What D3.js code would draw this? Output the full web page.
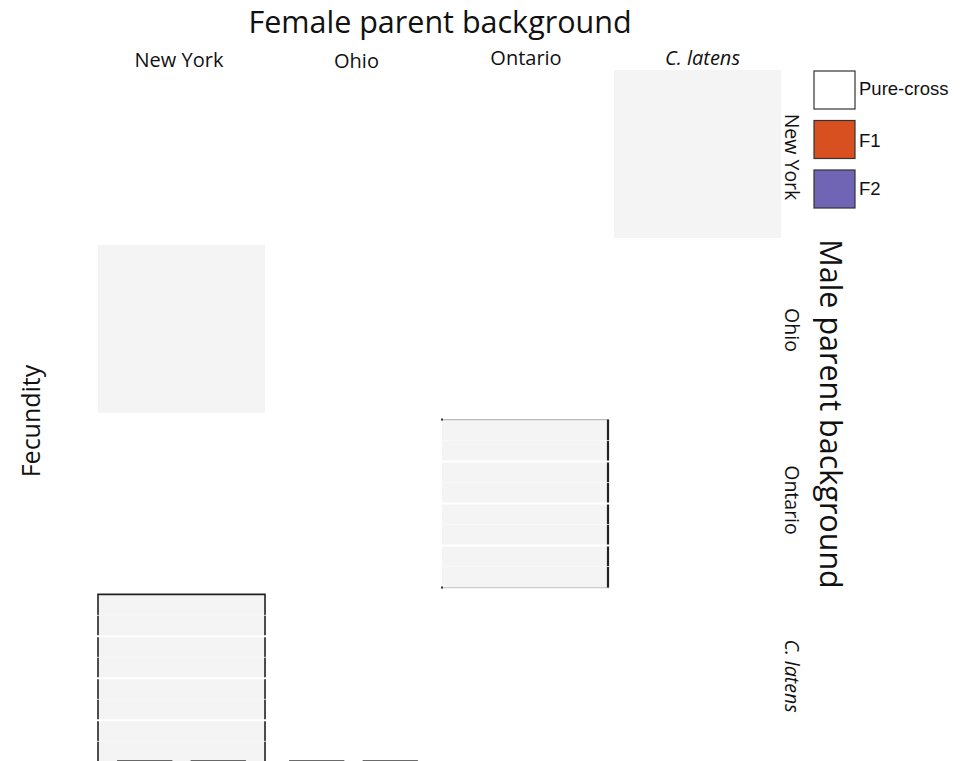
<!DOCTYPE html>
<html><head><meta charset="utf-8">
<script src="https://cdn.jsdelivr.net/npm/d3@7"></script>
<style>html,body{margin:0;padding:0;background:#fff;overflow:hidden}</style>
</head><body>
<svg id="chart" width="960" height="761"></svg>
<script>
// ---- data ----
const femaleCats = ["New York", "Ohio", "Ontario", "C. latens"];
const maleCats = ["New York", "Ohio", "Ontario", "C. latens"];
const crossTypes = ["Pure-cross", "F1", "F2"];
const crossColors = ["#ffffff", "#d95020", "#7064b4"];
const majorTicks = [1, 2, 3];
const minorTicks = [0.5, 1.5, 2.5, 3.5];
const shadedFemale = ["C. latens", "New York", "Ontario", "New York"];
const shadedMale = ["New York", "Ohio", "Ontario", "C. latens"];
const griddedFemale = ["Ontario", "New York"];
const griddedMale = ["Ontario", "C. latens"];
const barFemale = ["New York", "New York", "Ohio", "Ohio"];
const barMale = ["C. latens", "C. latens", "C. latens", "C. latens"];
const barGroup = ["a", "b", "a", "b"];
const barValue = [0.03, 0.03, 0.03, 0.03];

// ---- layout ----
const svg = d3.select("#chart");
const FONT = "'Open Sans', 'DejaVu Sans', sans-serif";
const x = d3.scaleBand().domain(femaleCats).range([98, 781]).paddingInner(0.029);
const yRow = d3.scaleBand().domain(maleCats).range([70, 763]).paddingInner(0.035);
const inner = d3.scaleBand().domain(["a", "b"]).range([0, x.bandwidth()]).paddingInner(0.27).paddingOuter(0.27);
const ph = 168;
const yv = d3.scaleLinear().domain([0, 4]).range([ph, 0]);

// panel backgrounds
shadedFemale.forEach((f, i) => {
  const m = shadedMale[i];
  svg.append("rect").attr("x", x(f)).attr("y", yRow(m))
    .attr("width", x.bandwidth()).attr("height", ph).attr("fill", "#f4f4f4");
});

// gridded panels
griddedFemale.forEach((f, i) => {
  const m = griddedMale[i];
  const g = svg.append("g").attr("transform", `translate(${x(f)},${yRow(m)})`);
  const w = x.bandwidth();
  if (m === "C. latens") {
    g.append("path").attr("d", `M0,${ph + 2}V0H${w}V${ph + 2}`)
      .attr("fill", "none").attr("stroke", "#222").attr("stroke-width", 1.6);
  } else {
    g.append("line").attr("x1", 0).attr("x2", w).attr("y1", 0).attr("y2", 0).attr("stroke", "#bbb").attr("stroke-width", 1.2);
    g.append("line").attr("x1", 0).attr("x2", w).attr("y1", ph).attr("y2", ph).attr("stroke", "#ccc").attr("stroke-width", 1.2);
    g.append("line").attr("x1", w - 1).attr("x2", w - 1).attr("y1", 0).attr("y2", ph).attr("stroke", "#222").attr("stroke-width", 2.2);
    g.append("rect").attr("x", -1).attr("y", -1).attr("width", 2).attr("height", 2).attr("fill", "#333");
    g.append("rect").attr("x", -1).attr("y", ph - 1).attr("width", 2).attr("height", 2).attr("fill", "#333");
  }
  g.selectAll(".minor").data(minorTicks).join("line")
    .attr("x1", -1).attr("x2", w + 1).attr("y1", d => yv(d)).attr("y2", d => yv(d))
    .attr("stroke", "#f9f9f9").attr("stroke-width", 0.8);
  g.selectAll(".major").data(majorTicks).join("line")
    .attr("x1", -1).attr("x2", w + 1).attr("y1", d => yv(d)).attr("y2", d => yv(d))
    .attr("stroke", "#ffffff").attr("stroke-width", 2);
});

// bars
barFemale.forEach((f, i) => {
  const m = barMale[i];
  const y0 = yRow(m);
  svg.append("rect")
    .attr("x", x(f) + inner(barGroup[i]))
    .attr("y", y0 + yv(barValue[i]))
    .attr("width", inner.bandwidth())
    .attr("height", ph - yv(barValue[i]) + 20)
    .attr("fill", "#ffffff").attr("stroke", "#333").attr("stroke-width", 1.6);
});

// titles
svg.append("text").attr("x", 440).attr("y", 33).attr("text-anchor", "middle")
  .attr("font-family", FONT).attr("font-size", 30.5).attr("fill", "#111")
  .text("Female parent background");

const colY = [67, 68, 65, 65];
const colDx = [-2.5, 3, 0.5, 5];
femaleCats.forEach((c, i) => {
  svg.append("text").attr("x", x(c) + x.bandwidth() / 2 + colDx[i]).attr("y", colY[i])
    .attr("text-anchor", "middle").attr("font-family", FONT).attr("font-size", 20)
    .attr("font-style", c === "C. latens" ? "italic" : "normal").attr("fill", "#111")
    .text(c);
});

const rowCy = [157, 330, 500, 676];
maleCats.forEach((c, i) => {
  svg.append("text").attr("transform", `translate(785,${rowCy[i]}) rotate(90)`)
    .attr("text-anchor", "middle").attr("font-family", FONT).attr("font-size", 19.5)
    .attr("font-style", c === "C. latens" ? "italic" : "normal").attr("fill", "#111")
    .text(c);
});

svg.append("text").attr("transform", "translate(820,414) rotate(90)")
  .attr("text-anchor", "middle").attr("font-family", FONT).attr("font-size", 30.5).attr("fill", "#111")
  .text("Male parent background");

svg.append("text").attr("transform", "translate(40,421) rotate(-90)")
  .attr("text-anchor", "middle").attr("font-family", FONT).attr("font-size", 25).attr("fill", "#111")
  .text("Fecundity");

// legend
const legY = d3.scaleBand().domain(crossTypes).range([71, 208]).paddingInner(0.232);
const legDy = [6, 7, 6];
crossTypes.forEach((c, i) => {
  svg.append("rect").attr("x", 814).attr("y", legY(c)).attr("width", 41).attr("height", legY.bandwidth())
    .attr("fill", crossColors[i]).attr("stroke", "#333").attr("stroke-width", 1.2);
  svg.append("text").attr("x", 859).attr("y", legY(c) + legY.bandwidth() / 2 + legDy[i] - (i === 0 ? 1 : 0))
    .attr("font-family", "'Liberation Sans', Arial, sans-serif").attr("font-size", 18.5).attr("fill", "#111")
    .text(c);
});
</script>
</body></html>
